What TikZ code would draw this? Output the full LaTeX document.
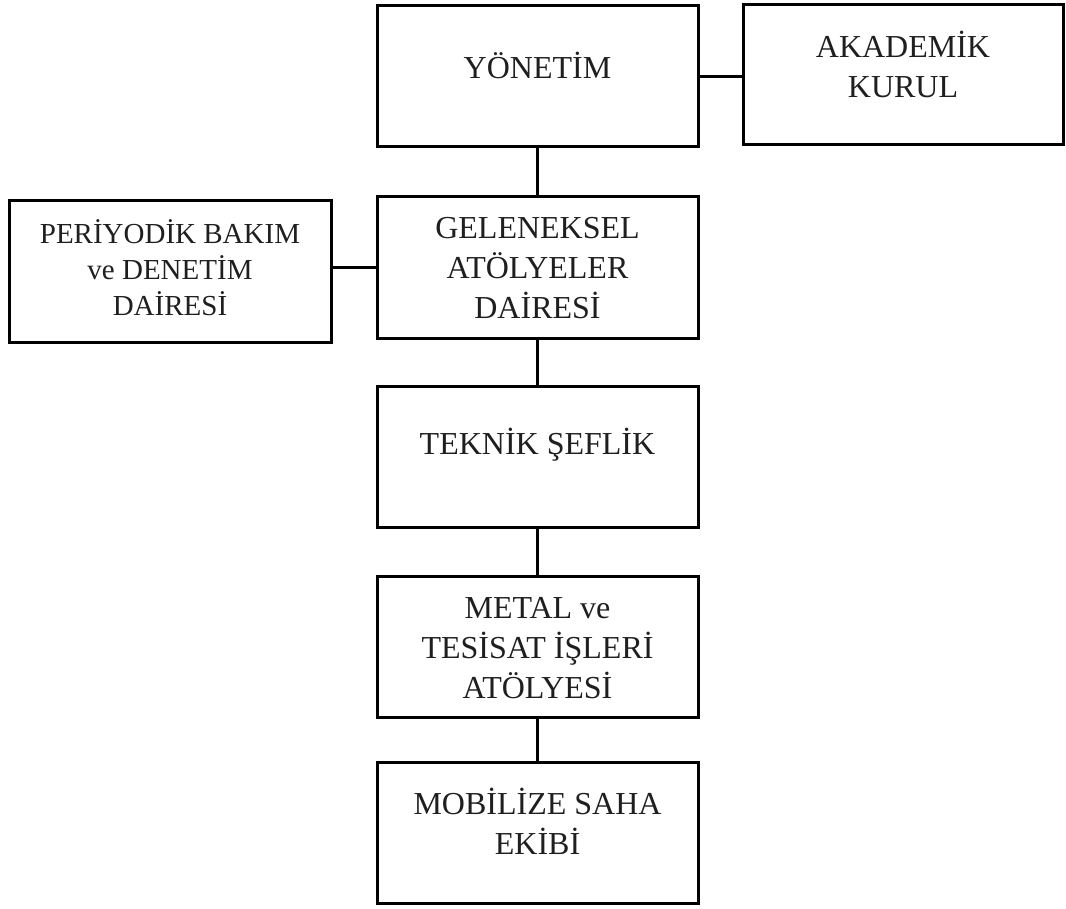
\documentclass[tikz,border=0pt]{standalone}
\usepackage{fontspec}
\setmainfont{Liberation Serif}
\begin{document}
\begin{tikzpicture}[x=1pt,y=1pt,
  boxst/.style={draw=black, line width=3pt, inner sep=0pt, fill=white},
  txt/.style={align=center, inner sep=0pt, font=\fontsize{32}{40}\selectfont, text=black!88},
  smalltxt/.style={txt, font=\fontsize{29}{36}\selectfont},
  conn/.style={draw=black, line width=3pt}]
\useasboundingbox[fill=white] (0,0) rectangle (1066,-909);
% boxes
\node[boxst, minimum width=321pt, minimum height=141pt] (yon) at (537.5,-76.5) {};
\node[boxst, minimum width=320pt, minimum height=140pt] (aka) at (903,-75) {};
\node[boxst, minimum width=322pt, minimum height=142pt] (per) at (170,-272) {};
\node[boxst, minimum width=321pt, minimum height=142pt] (gel) at (537.5,-268) {};
\node[boxst, minimum width=321pt, minimum height=141pt] (tek) at (537.5,-456.5) {};
\node[boxst, minimum width=321pt, minimum height=141pt] (met) at (537.5,-646.5) {};
\node[boxst, minimum width=321pt, minimum height=141pt] (mob) at (537.5,-832.5) {};
% connectors
\draw[conn] (yon.east) -- (yon.east -| aka.west);
\draw[conn] (per.east |- gel.west) -- (gel.west);
\draw[conn] (yon.south) -- (gel.north);
\draw[conn] (gel.south) -- (tek.north);
\draw[conn] (tek.south) -- (met.north);
\draw[conn] (met.south) -- (mob.north);
% texts
\node[txt] (yont) at (537.5,-65) {YÖNETİM};
\node[txt] (akat) at (903,-64.5) {AKADEMİK\\KURUL};
\node[smalltxt] (pert) at (170,-268) {PERİYODİK BAKIM\\ve DENETİM\\DAİRESİ};
\node[txt] (gelt) at (537.5,-268) {GELENEKSEL\\ATÖLYELER\\DAİRESİ};
\node[txt] (tekt) at (537.5,-445) {TEKNİK ŞEFLİK};
\node[txt] (mett) at (537.5,-648) {METAL ve\\TESİSAT İŞLERİ\\ATÖLYESİ};
\node[txt] (mobt) at (537.5,-821) {MOBİLİZE SAHA\\EKİBİ};
\end{tikzpicture}
\end{document}
